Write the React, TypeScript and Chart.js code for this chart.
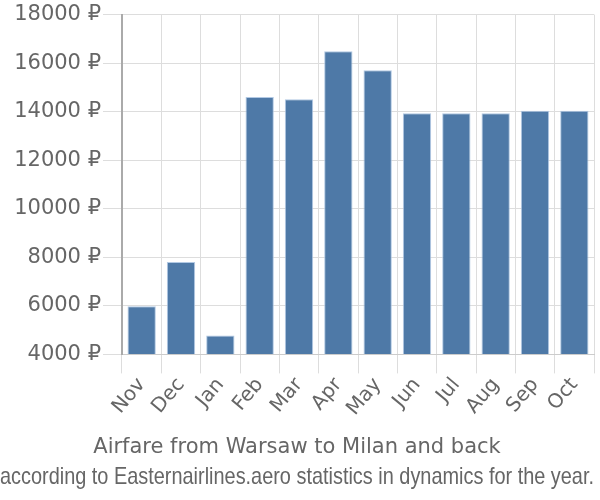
import React, { useEffect, useRef } from "react";
import { Chart, registerables } from "chart.js";

Chart.register(...registerables);

const months = ["Nov", "Dec", "Jan", "Feb", "Mar", "Apr", "May", "Jun", "Jul", "Aug", "Sep", "Oct"];
const prices = [5980, 7810, 4780, 14600, 14515, 16495, 15710, 13940, 13940, 13940, 14040, 14040];
const titleText = "Airfare from Warsaw to Milan and back";
const subtitleText = "according to Easternairlines.aero statistics in dynamics for the year.";
const yMin = 4000;
const yMax = 18000;
const yStep = 2000;
const currency = "₽";

const MAIN_FONT = "'DejaVu Sans', Verdana, sans-serif";
const NARROW_FONT = "'Liberation Sans Narrow', 'Arial Narrow', 'Liberation Sans', sans-serif";

export default function App() {
  const ref = useRef<HTMLCanvasElement | null>(null);
  useEffect(() => {
    if (!ref.current) return;
    const chart = new Chart(ref.current, {
      type: "bar",
      data: {
        labels: months,
        datasets: [
          {
            data: prices,
            backgroundColor: "#4e79a7",
            borderColor: "rgba(170,195,225,0.9)",
            borderWidth: 1,
            barPercentage: 0.72,
            categoryPercentage: 1,
            base: yMin,
          },
        ],
      },
      options: {
        animation: false,
        responsive: false,
        maintainAspectRatio: false,
        layout: { padding: { left: 0, right: 6, top: 4, bottom: 6 } },
        plugins: {
          legend: { display: false },
          tooltip: { enabled: false },
          // outermost bottom line (subtitle text)
          title: {
            display: true,
            text: subtitleText,
            position: "bottom",
            color: "#666",
            font: { family: NARROW_FONT, size: 23.6, weight: "normal" },
            padding: { top: 2, bottom: 2 },
          },
          // inner bottom line (main title text)
          subtitle: {
            display: true,
            text: titleText,
            position: "bottom",
            color: "#666",
            font: { family: MAIN_FONT, size: 21, weight: "normal" },
            padding: { top: 14, bottom: 2 },
          },
        },
        scales: {
          x: {
            offset: true,
            grid: { display: true, color: "#ddd", offset: true, tickLength: 19 },
            border: { color: "#ccc" },
            ticks: {
              color: "#666",
              font: { family: MAIN_FONT, size: 20 },
              maxRotation: 50,
              minRotation: 50,
              padding: 0,
            },
          },
          y: {
            min: yMin,
            max: yMax,
            afterFit: (scale: any) => {
              scale.width = 122;
            },
            grid: { color: "#ddd", tickLength: 19 },
            border: { color: "#aaa", width: 2 },
            ticks: {
              stepSize: yStep,
              color: "#666",
              font: { family: MAIN_FONT, size: 21 },
              padding: 2,
              callback: (v: any) => `${v} ${currency}`,
            },
          },
        },
      },
    });
    return () => chart.destroy();
  }, []);
  return (
    <div style={{ position: "fixed", left: 0, top: 0, width: 600, height: 500, background: "#fff" }}>
      <canvas ref={ref} width={600} height={500} style={{ width: 600, height: 500 }} />
    </div>
  );
}
